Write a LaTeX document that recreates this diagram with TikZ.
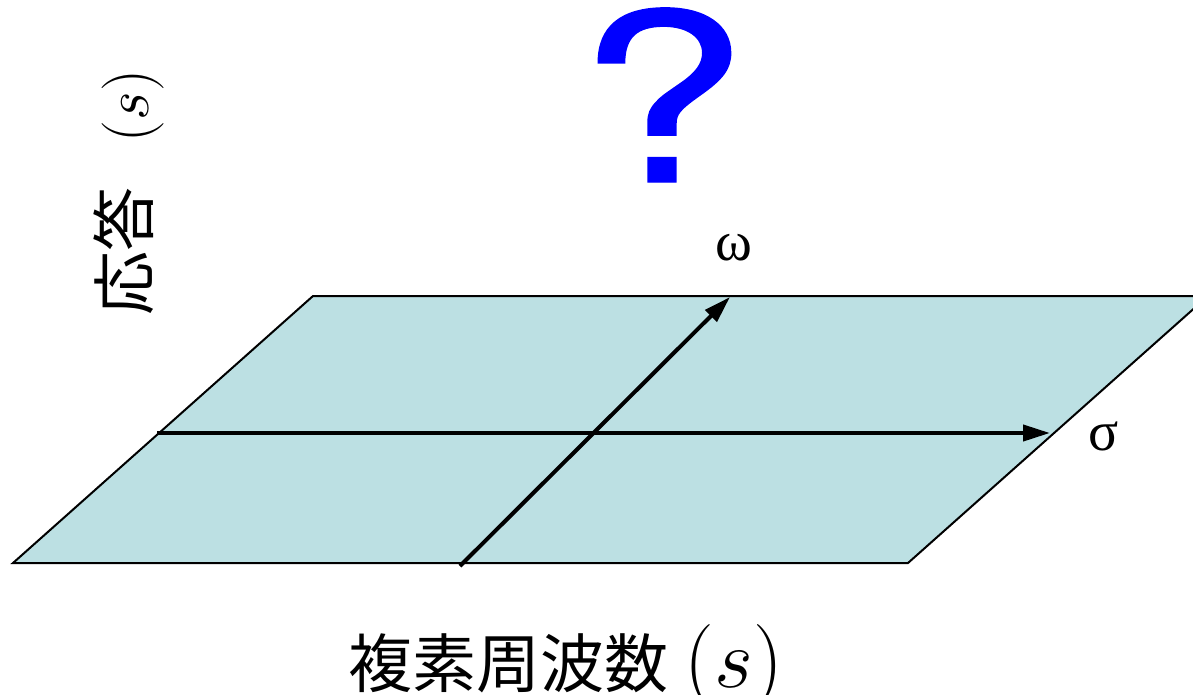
\RequirePackage{fix-cm}
\documentclass[tikz,border=0pt]{standalone}
\usepackage{fontspec}
\setmainfont{Liberation Serif}
\newfontfamily\jpfont{Noto Sans CJK JP}
\newfontfamily\qfont{TeX Gyre Heros}[FakeBold=0.6]
\newfontfamily\timesup{Liberation Serif}
\usetikzlibrary{arrows.meta,positioning}
\definecolor{plane}{HTML}{BCE0E3}
\definecolor{qblue}{HTML}{0000FF}
\newcommand{\bigfs}[1]{\fontsize{#1}{#1}\selectfont}
\newcommand{\sarg}[1]{\bigfs{#1}$(s)$}

\begin{document}
\begin{tikzpicture}[x=1pt,y=-1pt,
  every node/.style={inner sep=0pt},
  axis/.style={line width=4pt,-{Triangle[length=27pt,width=16pt]}}]
  \useasboundingbox (0,0) rectangle (1193,694);
  % corners of the s-plane
  \coordinate (bl) at (13,563);
  \coordinate (tl) at (313,296);
  \coordinate (tr) at (1208,296);
  \coordinate (br) at (908,563);
  % axis ends
  \coordinate (sigma0) at (157,433);
  \coordinate (sigma1) at (1050,433);
  \coordinate (omega0) at (460,566);
  \coordinate (omega1) at (730,297);
  \begin{scope}
    \clip (0,0) rectangle (1193,694);
    \draw[line width=2pt,fill=plane] (bl) -- (tl) -- (tr) -- (br) -- cycle;
  \end{scope}
  \draw[axis] (sigma0) -- (sigma1);
  \draw[axis] (omega0) -- (omega1);
  \node[anchor=base] (omegalab) at (734,260) {\timesup\bigfs{56}ω};
  \node[anchor=base] (sigmalab) at (1104,450) {\timesup\bigfs{56}σ};
  \node[anchor=base,text=qblue,xscale=1.3] (quest) at (662,182) {\qfont\bigfs{235}?};
  % horizontal label
  \node[anchor=base west] (freq) at (348,687) {\jpfont\bigfs{64}複素周波数};
  \node[right=16pt of freq.base east,anchor=base west] (freqs) {\sarg{84}};
  % vertical label
  \node[rotate=90,anchor=base west] (resp) at (148,316) {\jpfont\bigfs{64}応答};
  \node[rotate=90,above=45pt of resp.base east,anchor=base west] (resps) {\sarg{62}};
\end{tikzpicture}
\end{document}
